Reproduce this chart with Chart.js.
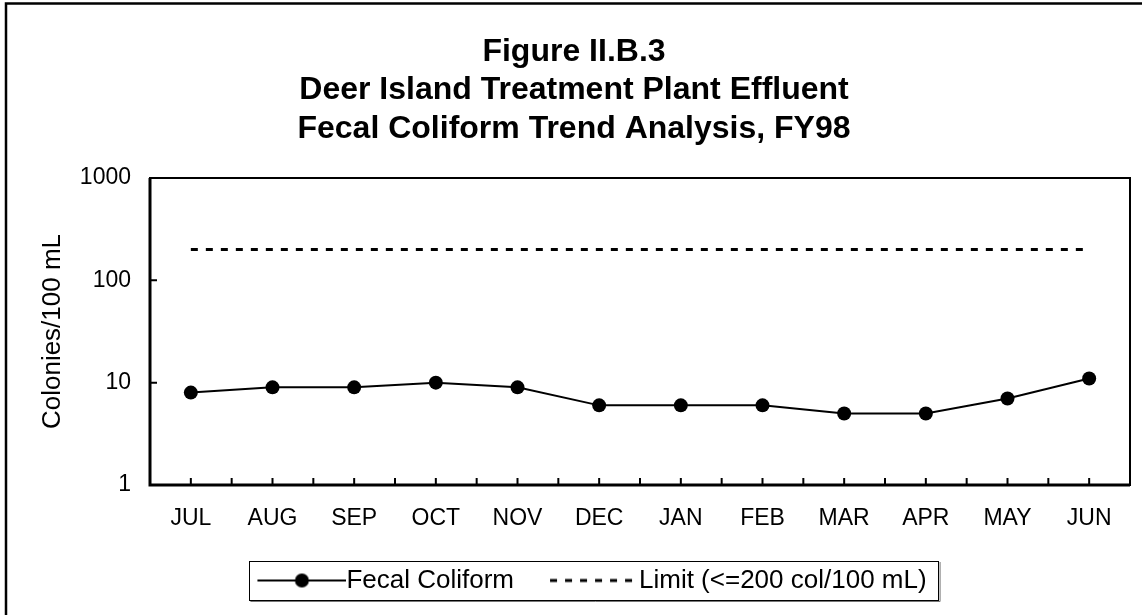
<!DOCTYPE html>
<html>
<head>
<meta charset="utf-8">
<title>Fecal Coliform Trend Analysis, FY98</title>
<script src="https://cdn.jsdelivr.net/npm/chart.js@4.4.1/dist/chart.umd.min.js"></script>
<style>
  html, body { margin: 0; padding: 0; background: #fff; overflow: hidden; }
  #wrap { width: 1142px; height: 615px; }
</style>
</head>
<body>
<div id="wrap"><canvas id="chart" width="1142" height="615"></canvas></div>
<script>
const months = ['JUL', 'AUG', 'SEP', 'OCT', 'NOV', 'DEC', 'JAN', 'FEB', 'MAR', 'APR', 'MAY', 'JUN'];
const fecalColiform = [8, 9, 9, 10, 9, 6, 6, 6, 5, 5, 7, 11];
const limitValues = [200, 200, 200, 200, 200, 200, 200, 200, 200, 200, 200, 200];
const yTickValues = [1, 10, 100, 1000];
const titleLines = ['Figure II.B.3', 'Deer Island Treatment Plant Effluent', 'Fecal Coliform Trend Analysis, FY98'];
const seriesNames = ['Fecal Coliform', 'Limit (<=200 col/100 mL)'];

const FONT = "'Liberation Sans', Arial, sans-serif";
const legendFontSize = 26;
const sampleWidth = 76;
const legendShiftX = 18;

Chart.defaults.font.family = FONT;
Chart.defaults.color = '#000';

// little pictures for the legend: line with a dot, and the dashed limit
function legendSample(kind) {
    const pad = legendFontSize / 2;
    const w = sampleWidth + pad * 2, h = 20;
    const c = document.createElement('canvas');
    c.width = w;
    c.height = h;
    const g = c.getContext('2d');
    g.strokeStyle = '#000';
    g.fillStyle = '#000';
    if (kind === 'line') {
        g.lineWidth = 2;
        g.beginPath();
        g.moveTo(pad, h / 2);
        g.lineTo(w, h / 2);
        g.stroke();
        g.beginPath();
        g.arc(pad + (w - pad) / 2, h / 2, 7, 0, Math.PI * 2);
        g.fill();
    } else {
        g.lineWidth = 3;
        g.setLineDash([7, 8]);
        g.beginPath();
        g.moveTo(pad, h / 2);
        g.lineTo(w, h / 2);
        g.stroke();
    }
    return c;
}
const legendSamples = [legendSample('line'), legendSample('dash')];

const frameAndTicks = {
    id: 'frameAndTicks',
    afterUpdate(chart) {
        const lg = chart.legend;
        if (!lg) return;
        lg.left += legendShiftX;
        lg.right += legendShiftX;
        lg.legendHitBoxes.forEach(h => { h.left += legendShiftX; });
    },
    afterDraw(chart) {
        const {ctx, chartArea: a, scales: {x, y}} = chart;
        ctx.save();
        ctx.strokeStyle = '#000';

        // outer frame, its right and bottom edges fall outside the picture
        ctx.lineWidth = 2.5;
        ctx.beginPath();
        ctx.moveTo(6, chart.height);
        ctx.lineTo(6, 3.5);
        ctx.lineTo(chart.width, 3.5);
        ctx.stroke();

        // plot box
        ctx.lineWidth = 2;
        ctx.strokeRect(a.left, a.top, a.right - a.left, a.bottom - a.top);
        ctx.lineWidth = 3;
        ctx.beginPath();
        ctx.moveTo(a.left, a.top);
        ctx.lineTo(a.left, a.bottom);
        ctx.lineTo(a.right, a.bottom);
        ctx.stroke();

        // tick marks point inwards
        ctx.lineWidth = 2;
        ctx.beginPath();
        y.ticks.forEach(t => {
            const py = y.getPixelForValue(t.value);
            ctx.moveTo(a.left, py);
            ctx.lineTo(a.left + 7, py);
        });
        for (let i = 0; i <= months.length * 2; i++) {
            const px = x.getPixelForValue(i / 2 - 0.5);
            ctx.moveTo(px, a.bottom);
            ctx.lineTo(px, a.bottom - 7);
        }
        ctx.stroke();

        // legend frame
        const hb = chart.legend.legendHitBoxes;
        if (hb.length) {
            const first = hb[0], last = hb[hb.length - 1];
            const left = first.left - 8;
            const right = last.left + last.width + 12;
            const cy = first.top + first.height / 2;
            const top = cy - 19.5, h = 39;
            ctx.lineWidth = 1;
            ctx.strokeStyle = '#777';
            ctx.beginPath();
            ctx.moveTo(left + 1, top + h + 1.5);
            ctx.lineTo(right + 1.5, top + h + 1.5);
            ctx.lineTo(right + 1.5, top + 1);
            ctx.stroke();
            ctx.strokeStyle = '#000';
            ctx.strokeRect(Math.round(left) + 0.5, Math.round(top) + 0.5, Math.round(right - left), h);
        }
        ctx.restore();
    }
};

new Chart(document.getElementById('chart'), {
    type: 'line',
    data: {
        labels: months,
        datasets: [{
            label: seriesNames[0],
            data: fecalColiform,
            borderColor: '#000',
            borderWidth: 2,
            pointRadius: 7,
            pointHoverRadius: 7,
            pointBackgroundColor: '#000',
            pointBorderColor: '#000',
            pointBorderWidth: 0,
            tension: 0
        }, {
            label: seriesNames[1],
            data: limitValues,
            borderColor: '#000',
            borderWidth: 3,
            borderDash: [7, 8],
            pointRadius: 0,
            pointHoverRadius: 0,
            tension: 0
        }]
    },
    options: {
        responsive: false,
        animation: false,
        layout: {
            padding: { top: 0, left: 18, right: 12, bottom: 11.5 }
        },
        plugins: {
            title: {
                display: true,
                text: titleLines,
                color: '#000',
                font: { size: 32, weight: 'bold', lineHeight: 1.2 },
                padding: { top: 33, bottom: 29.8 }
            },
            legend: {
                position: 'bottom',
                labels: {
                    usePointStyle: true,
                    pointStyleWidth: sampleWidth,
                    padding: 36,
                    color: '#000',
                    font: { size: legendFontSize },
                    generateLabels: chart => chart.data.datasets.map((ds, i) => ({
                        text: ds.label,
                        pointStyle: legendSamples[i],
                        datasetIndex: i,
                        hidden: !chart.isDatasetVisible(i),
                        fontColor: '#000',
                        lineWidth: 0,
                        strokeStyle: 'transparent',
                        fillStyle: 'transparent'
                    }))
                }
            },
            tooltip: { enabled: false }
        },
        scales: {
            x: {
                type: 'category',
                offset: true,
                grid: { display: false, drawTicks: false },
                border: { display: false },
                ticks: { font: { size: 23 }, color: '#000', padding: 20, maxRotation: 0, autoSkip: false },
                afterFit: s => { s.height = 46.5; }
            },
            y: {
                type: 'logarithmic',
                min: 1,
                max: 1000,
                grid: { display: false, drawTicks: false },
                border: { display: false },
                afterBuildTicks: s => { s.ticks = yTickValues.map(v => ({ value: v })); },
                ticks: { font: { size: 23 }, color: '#000', padding: 19, callback: v => String(v) },
                title: {
                    display: true,
                    text: 'Colonies/100 mL',
                    color: '#000',
                    font: { size: 26 },
                    padding: { top: 19, bottom: 0 }
                },
                afterFit: s => { s.width = 132; }
            }
        }
    },
    plugins: [frameAndTicks]
});
</script>
</body>
</html>
